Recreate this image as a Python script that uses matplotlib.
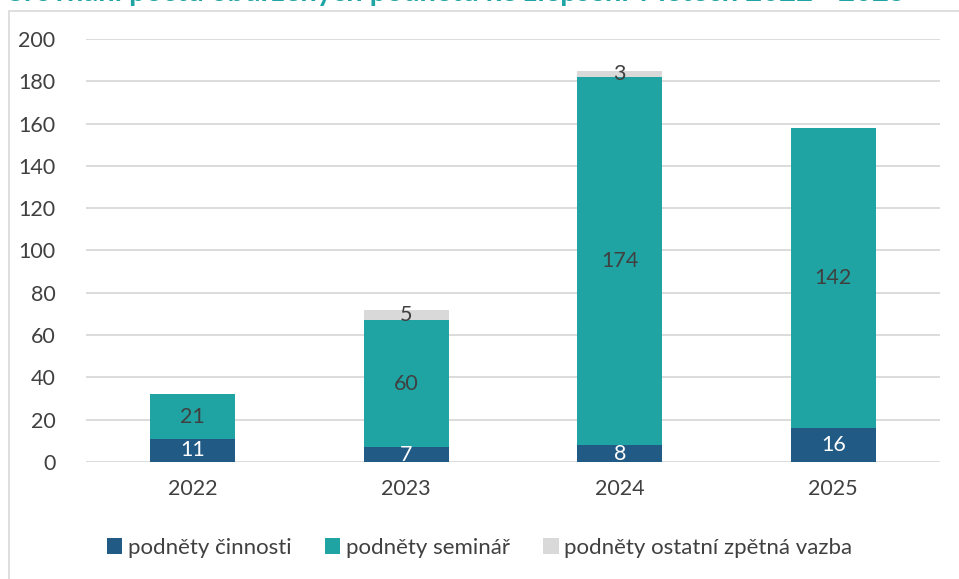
import matplotlib
matplotlib.use('Agg')
import matplotlib.pyplot as plt
from matplotlib.patches import Rectangle
import numpy as np

# Data
years = ['2022', '2023', '2024', '2025']
cinnosti = [11, 7, 8, 16]
seminar = [21, 60, 174, 142]
ostatni = [0, 5, 3, 0]
series_names = ['podněty činnosti', 'podněty seminář', 'podněty ostatní zpětná vazba']

TITLE = 'Srovnání počtu obdržených podnětů ke zlepšení v letech 2022 - 2025'
COLORS = ['#215A84', '#1FA3A3', '#D9D9D9']
TEXT_COLOR = '#404040'

plt.rcParams['font.family'] = ['Lato', 'DejaVu Sans']

fig = plt.figure(figsize=(9.59, 5.79), dpi=100)
ax = fig.add_axes([86 / 959, 1 - 462 / 579, 854 / 959, 423 / 579])

# outer chart frame
fig.patches.append(Rectangle((8.5 / 959, -0.1), 1.2, 1 - 10.5 / 579 + 0.1,
                             transform=fig.transFigure, fill=False,
                             edgecolor='#D9D9D9', linewidth=1.2))

# title, cut off at the top edge as in the source screenshot
fig.text(8 / 959, 1 - 1.5 / 579, TITLE, color='#1FA3A3', fontsize=21,
         fontweight='bold', ha='left', va='baseline')

x = np.arange(len(years))
width = 0.4
bottoms = np.zeros(len(years))
for vals, color, name in zip([cinnosti, seminar, ostatni], COLORS, series_names):
    vals = np.array(vals)
    ax.bar(x, vals, width, bottom=bottoms, color=color, label=name, zorder=3)
    for xi, v, b in zip(x, vals, bottoms):
        if v == 0:
            continue
        txt_color = 'white' if color == COLORS[0] else TEXT_COLOR
        ax.text(xi, b + v / 2, str(v), ha='center', va='center',
                fontsize=15.5, color=txt_color, zorder=4)
    bottoms = bottoms + vals

ax.set_xlim(-0.5, 3.5)
ax.set_ylim(0, 200)
ax.set_yticks(range(0, 201, 20))
ax.set_xticks(x)
ax.set_xticklabels(years)
ax.tick_params(length=0, labelsize=15.5, labelcolor=TEXT_COLOR)
ax.tick_params(axis='y', pad=22)
ax.tick_params(axis='x', pad=12)
ax.grid(axis='y', color='#D9D9D9', linewidth=1.3, zorder=0)
for s in ax.spines.values():
    s.set_visible(False)

fig.legend(loc='center', bbox_to_anchor=(0.5, 1 - 548 / 579), ncol=3,
           frameon=False, fontsize=16, handlelength=0.7, handleheight=0.7,
           handletextpad=0.25, columnspacing=1.5, labelcolor=TEXT_COLOR)

plt.savefig('out.png', dpi=100)
plt.close()
